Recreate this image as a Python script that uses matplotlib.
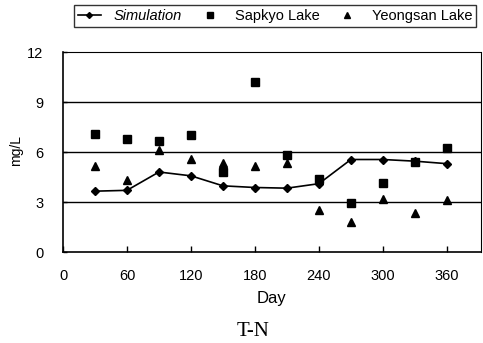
import matplotlib.pyplot as plt

plt.rcParams['font.family'] = ['Liberation Sans', 'DejaVu Sans']

days = [30, 60, 90, 120, 150, 180, 210, 240, 270, 300, 330, 360]
simulation = [3.65, 3.7, 4.8, 4.57, 3.97, 3.87, 3.83, 4.1, 5.55, 5.55, 5.45, 5.3]
sapkyo = [7.1, 6.8, 6.67, 7.0, 4.8, 10.2, 5.85, 4.37, 2.97, 4.17, 5.4, 6.25]
yeongsan = [5.15, 4.3, 6.1, 5.6, 5.37, 5.15, 5.35, 2.5, 1.8, 3.2, 2.35, 3.1]

fig = plt.figure(figsize=(4.83, 3.43), dpi=100)
ax = fig.add_axes([63/483, 1 - 252/343, (481-63)/483, (252-52)/343])

for yv in [3, 6, 9]:
    ax.axhline(yv, color='black', lw=1.0, zorder=1)

ax.plot(days, simulation, color='black', marker='D', ms=4, lw=1.2, label='Simulation', zorder=3)
ax.plot(days, sapkyo, ls='none', color='black', marker='s', ms=5.5, label='Sapkyo Lake', zorder=3)
ax.plot(days, yeongsan, ls='none', color='black', marker='^', ms=5.5, label='Yeongsan Lake', zorder=3)

ax.set_xlim(0, 392)
ax.set_ylim(0, 12)
ax.set_xticks([0, 60, 120, 180, 240, 300, 360])
ax.set_yticks([0, 3, 6, 9, 12])
ax.tick_params(direction='in', length=4, width=1, labelsize=10.5)
ax.tick_params(axis='x', pad=12)
ax.tick_params(axis='y', length=3, pad=14)
ax.spines['left'].set_linewidth(1.2)
ax.spines['bottom'].set_linewidth(1.2)
ax.spines['top'].set_linewidth(0.8)
ax.spines['top'].set_linestyle((0, (4, 1)))
ax.spines['right'].set_linewidth(0.8)
ax.spines['right'].set_linestyle((0, (1, 1)))

ax.set_xlabel('Day', fontsize=12, labelpad=6)
fig.text(16/483, 1 - 150/343, 'mg/L', rotation=90, ha='center', va='center', fontsize=10)

leg = fig.legend(loc='center', bbox_to_anchor=(275/483, 1 - 16/343), ncol=3,
                 frameon=True, fancybox=False, edgecolor='black', fontsize=10.5,
                 handlelength=1.6, columnspacing=1.1, handletextpad=0.9,
                 borderpad=0.25, markerscale=0.75)
leg.get_frame().set_linewidth(1.0)
leg.get_texts()[0].set_style('italic')

fig.text(253/483, 1 - 332/343, 'T-N', ha='center', va='center', fontsize=15,
         family=['Liberation Serif', 'DejaVu Serif'])

fig.savefig('out.png', dpi=100)
